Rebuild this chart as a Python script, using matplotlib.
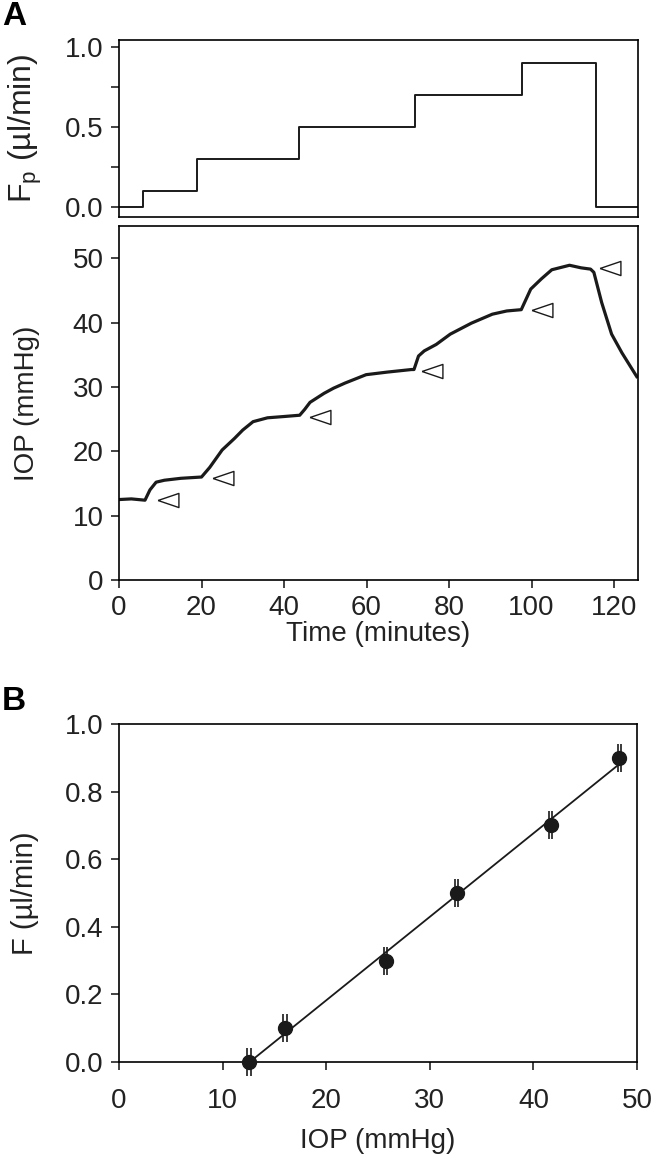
import numpy as np
import matplotlib
matplotlib.use("Agg")
import matplotlib.pyplot as plt

plt.rcParams['font.family'] = ['Liberation Sans', 'DejaVu Sans']
plt.rcParams['mathtext.fontset'] = 'custom'
plt.rcParams['mathtext.rm'] = 'Liberation Sans'

# ---- data ----
# perfusion flow step function (time in minutes, flow in ul/min)
step_t = [0, 5.8, 18.9, 43.6, 71.8, 97.7, 115.7, 125.5]
step_f = [0.0, 0.1, 0.3, 0.5, 0.7, 0.9, 0.0, 0.0]

# IOP trace
iop_t = [0, 3, 6.3, 7.5, 9, 11, 15, 20, 22, 25, 28, 30, 32.5, 36, 40, 43.8, 45, 46.3,
         49.7, 52, 54.8, 59.9, 65, 70.9, 71.5, 72.6, 74, 76.9, 80.3, 85.4, 90.5, 94,
         97.5, 99.8, 102.4, 104.9, 109.2, 112, 114.3, 115.1, 117, 119.4, 121.9, 125.5]
iop_v = [12.5, 12.6, 12.4, 14.0, 15.2, 15.5, 15.8, 16.0, 17.5, 20.2, 22.0, 23.3, 24.6,
         25.2, 25.4, 25.6, 26.5, 27.6, 29.0, 29.8, 30.6, 31.9, 32.3, 32.7, 32.7, 34.8,
         35.6, 36.6, 38.2, 39.9, 41.3, 41.8, 42.0, 45.2, 46.8, 48.2, 48.9, 48.5, 48.3,
         47.8, 43.1, 38.2, 35.3, 31.6]

# arrowheads marking steady-state points
arrow_t = [11.9, 25.1, 48.7, 75.9, 102.5, 119.1]
arrow_v = [12.4, 15.8, 25.4, 32.5, 41.9, 48.4]

# panel B: flow vs steady-state IOP
b_iop = [12.56, 16.03, 25.73, 32.58, 41.68, 48.31]
b_flow = [0.0, 0.1, 0.3, 0.5, 0.7, 0.9]
b_iop_err = [0.16, 0.16, 0.16, 0.16, 0.16, 0.16]
fit_x = [12.6, 48.6]

# ---- figure ----
W, H = 663, 1169
fig = plt.figure(figsize=(W / 100, H / 100), dpi=100)

def box(l, t, r, b):
    return [l / W, 1 - b / H, (r - l) / W, (b - t) / H]

FS = 20
LW = 1.2
TC = '#222222'

def style(ax):
    for s in ax.spines.values():
        s.set_linewidth(LW)
    ax.tick_params(direction='out', length=6, width=LW, labelsize=FS, colors=TC, pad=5)

# Top panel
ax1 = fig.add_axes(box(119, 40, 638, 217))
ax1.step(step_t, step_f, where='post', color='#1a1a1a', lw=1.4)
ax1.set_xlim(0, 125.8)
ax1.set_ylim(-0.062, 1.045)
ax1.set_yticks([0, 0.25, 0.5, 0.75, 1.0])
ax1.set_yticklabels(['0.0', '', '0.5', '', '1.0'])
ax1.set_xticks([])
style(ax1)
ax1.set_ylabel(r'F$_{\mathregular{p}}$ (µl/min)', fontsize=23, color=TC)
ax1.yaxis.set_label_coords(-0.145, 0.5)

# Middle panel
ax2 = fig.add_axes(box(119, 226, 638, 580))
ax2.plot(iop_t, iop_v, color='#1a1a1a', lw=2.3, solid_joinstyle='round')
tri = [(-1, 0), (1, 0.68), (1, -0.68), (-1, 0)]
ax2.plot(arrow_t, arrow_v, ls='none', marker=tri, markersize=15,
         markerfacecolor='white', markeredgecolor='#1a1a1a', markeredgewidth=1.0)
ax2.set_xlim(0, 125.8)
ax2.set_ylim(0, 55)
ax2.set_xticks([0, 20, 40, 60, 80, 100, 120])
ax2.set_yticks([0, 10, 20, 30, 40, 50])
style(ax2)
ax2.set_xlabel('Time (minutes)', fontsize=FS, labelpad=0, color=TC)
ax2.set_ylabel('IOP (mmHg)', fontsize=FS, color=TC)
ax2.yaxis.set_label_coords(-0.152, 0.5)

# Panel B
ax3 = fig.add_axes(box(119, 724, 637, 1062))
coef = np.polyfit(b_iop, b_flow, 1)
ax3.plot(fit_x, np.polyval(coef, fit_x), color='#1a1a1a', lw=1.3, zorder=2)
ax3.errorbar(b_iop, b_flow, xerr=b_iop_err, fmt='o', color='#1a1a1a',
             markersize=10, capsize=10, capthick=1.2, elinewidth=1.2, zorder=3,
             clip_on=False)
ax3.set_xlim(0, 50)
ax3.set_ylim(0, 1.0)
ax3.set_xticks([0, 10, 20, 30, 40, 50])
ax3.set_yticks([0, 0.2, 0.4, 0.6, 0.8, 1.0])
ax3.set_yticklabels(['0.0', '0.2', '0.4', '0.6', '0.8', '1.0'])
style(ax3)
ax3.tick_params(axis='x', pad=13)
ax3.set_xlabel('IOP (mmHg)', fontsize=FS, labelpad=10, color=TC)
ax3.set_ylabel('F (µl/min)', fontsize=21, color=TC)
ax3.yaxis.set_label_coords(-0.155, 0.5)

fig.text(2 / W, 1 - 1 / H, 'A', fontsize=24, fontweight='bold', va='top', ha='left')
fig.text(2 / W, 1 - 686 / H, 'B', fontsize=24, fontweight='bold', va='top', ha='left')

fig.savefig('out.png', dpi=100)
